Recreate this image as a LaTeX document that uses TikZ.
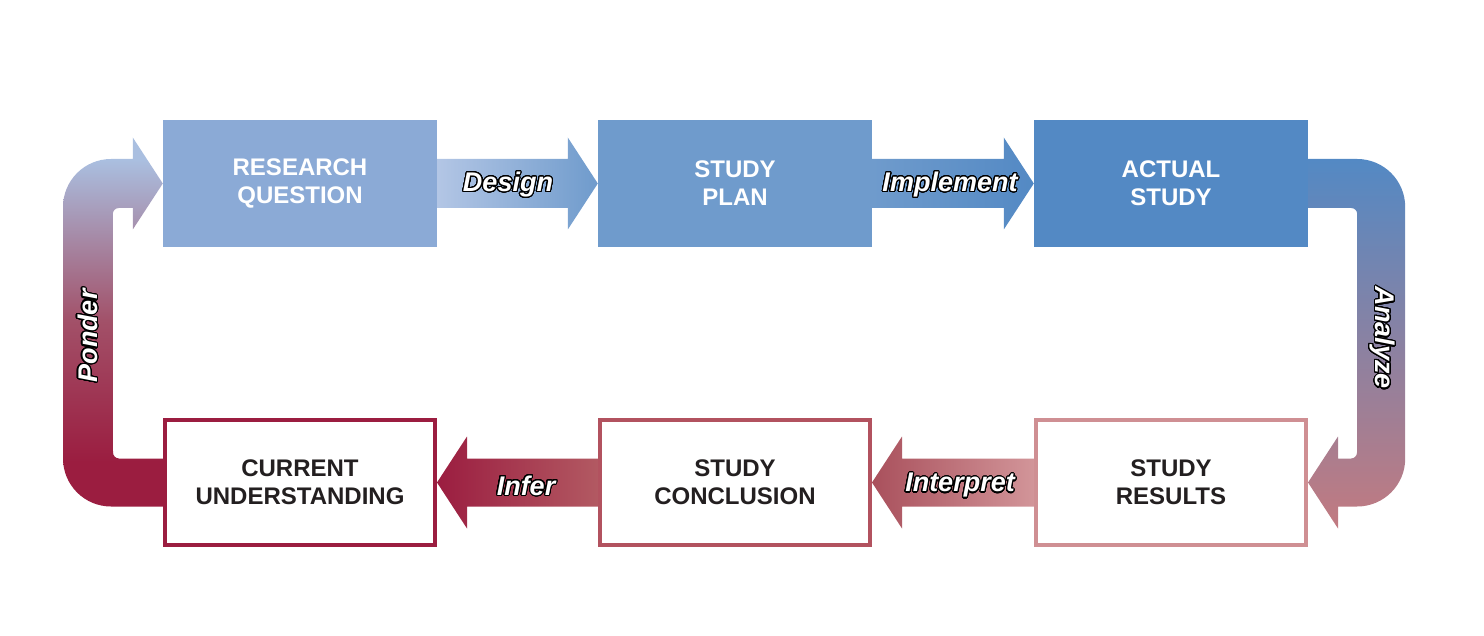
\documentclass[tikz,border=0pt]{standalone}
\usepackage{fontspec}
\setmainfont{Liberation Sans}
\usepackage{contour}
\contourlength{1.1pt}
\contournumber{32}
\usetikzlibrary{calc}
\definecolor{rqc}{HTML}{8BAAD6}
\definecolor{spc}{HTML}{6F9BCC}
\definecolor{asc}{HTML}{5389C4}
\definecolor{cuc}{HTML}{9B1D40}
\definecolor{scc}{HTML}{B2525F}
\definecolor{src}{HTML}{CF8F93}
\definecolor{txt}{HTML}{231F20}
\definecolor{dsl}{HTML}{B3C6E5}
\definecolor{infr}{HTML}{B25962}
\definecolor{intl}{HTML}{A9505C}
\definecolor{intr}{HTML}{D29599}
\definecolor{anb}{HTML}{C27A80}
\definecolor{ptop}{HTML}{AABFE0}
\definecolor{pmid}{HTML}{A25068}
\pgfdeclareverticalshading{ponder}{100bp}{color(0bp)=(cuc); color(31bp)=(cuc); color(50bp)=(pmid); color(72bp)=(ptop); color(100bp)=(ptop)}
\begin{document}
\begin{tikzpicture}[x=1pt,y=-1pt,
  box/.style={minimum width=274pt,minimum height=127pt,inner sep=0pt,align=center,
    font=\fontsize{24}{28}\selectfont\bfseries,text=white},
  obox/.style={draw=#1,line width=4pt,fill=white,minimum width=270pt,minimum height=125pt,
    inner sep=0pt,align=center,font=\fontsize{24}{28}\selectfont\bfseries,text=txt},
  lbl/.style={font=\fontsize{27}{30}\selectfont\bfseries\itshape,text=white,inner sep=0pt}]
\useasboundingbox (0,0) rectangle (1484,636);
% boxes
\node[box,fill=rqc] (rq) at (300,183.5) {RESEARCH\\QUESTION};
\node[box,fill=spc] (sp) at (735,183.5) {STUDY\\PLAN};
\node[box,fill=asc] (as) at (1171,183.5) {ACTUAL\\STUDY};
\node[obox=cuc] (cu) at (300,482.5) {CURRENT\\UNDERSTANDING};
\node[obox=scc] (sc) at (735,482.5) {STUDY\\CONCLUSION};
\node[obox=src] (sr) at (1171,482.5) {STUDY\\RESULTS};
% top arrows
\shade[left color=dsl,right color=spc]
  ($(rq.east)+(0,-24.5)$) -- ($(sp.west)+(-30,-24.5)$) -- ++(0,-21.5) -- (sp.west)
  -- ($(sp.west)+(-30,46)$) -- ++(0,-21.5) -- ($(rq.east)+(0,24.5)$) -- cycle;
\shade[left color=spc,right color=asc]
  ($(sp.east)+(0,-24.5)$) -- ($(as.west)+(-30,-24.5)$) -- ++(0,-21.5) -- (as.west)
  -- ($(as.west)+(-30,46)$) -- ++(0,-21.5) -- ($(sp.east)+(0,24.5)$) -- cycle;
% bottom arrows
\shade[left color=cuc,right color=infr]
  ($(sc.west)+(0,-24)$) -- ($(cu.east)+(30,-24)$) -- ++(0,-22) -- (cu.east)
  -- ($(cu.east)+(30,46)$) -- ++(0,-22) -- ($(sc.west)+(0,24)$) -- cycle;
\shade[left color=intl,right color=intr]
  ($(sr.west)+(0,-24)$) -- ($(sc.east)+(30,-24)$) -- ++(0,-22) -- (sc.east)
  -- ($(sc.east)+(30,46)$) -- ++(0,-22) -- ($(sr.west)+(0,24)$) -- cycle;
% right U arrow (Analyze)
\shade[top color=asc,bottom color=anb]
  ($(as.east)+(0,-24.5)$) -- ++(49,0) arc[start angle=270,end angle=360,radius=48]
  -- ($(as.east|-sr.east)+(97,-24)$) arc[start angle=0,end angle=90,radius=48]
  -- ($(sr.east)+(30,24)$) -- ++(0,22) -- (sr.east) -- ($(sr.east)+(30,-46)$) -- ++(0,22)
  -- ++(13,0) arc[start angle=90,end angle=0,radius=6]
  -- ($(as.east)+(49,30.5)$) arc[start angle=0,end angle=-90,radius=6]
  -- ($(as.east)+(0,24.5)$) -- cycle;
% left U arrow (Ponder)
\shade[shading=ponder]
  ($(cu.west)+(0,24)$) -- ++(-52,0) arc[start angle=90,end angle=180,radius=48]
  -- ($(cu.west|-rq.west)+(-100,23.5)$) arc[start angle=180,end angle=270,radius=48]
  -- ($(rq.west)+(-30,-24.5)$) -- ++(0,-21.5) -- (rq.west) -- ($(rq.west)+(-30,46)$)
  -- ++(0,-21.5) -- ++(-14,0) arc[start angle=270,end angle=180,radius=6]
  -- ($(cu.west)+(-50,-30)$) arc[start angle=180,end angle=90,radius=6]
  -- ($(cu.west)+(0,-24)$) -- cycle;
% labels
\node[lbl] (ldesign) at (508,185) {\contour{black}{Design}};
\node[lbl] (limpl) at (950,185) {\contour{black}{Implement}};
\node[lbl] (linfer) at (526,486) {\contour{black}{Infer}};
\node[lbl] (linterp) at (960,486) {\contour{black}{Interpret}};
\node[lbl,rotate=90] (lponder) at (88,336) {\contour{black}{Ponder}};
\node[lbl,rotate=-90] (lanalyze) at (1382,338) {\contour{black}{Analyze}};
\end{tikzpicture}
\end{document}
